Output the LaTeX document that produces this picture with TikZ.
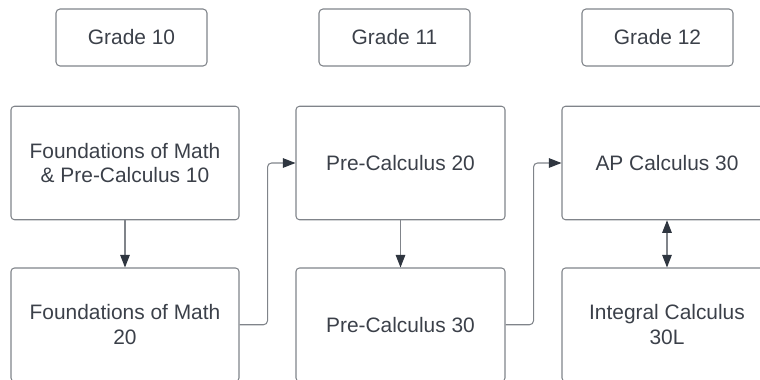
\documentclass[tikz,border=0pt]{standalone}
\usepackage{fontspec}
\setmainfont{Liberation Sans}
\usepackage{xcolor}
\usetikzlibrary{arrows.meta}
\definecolor{inkgray}{HTML}{3B4049}
\definecolor{linegray}{HTML}{80848A}
\definecolor{tipgray}{HTML}{2F3640}
\tikzstyle{arrow}  = [line width=0.6pt, draw=linegray, -{Triangle[length=0.25cm, width=0.19cm, color=tipgray]}]
\tikzstyle{darrow} = [line width=0.6pt, draw=linegray, {Triangle[length=0.25cm, width=0.19cm, color=tipgray]}-{Triangle[length=0.25cm, width=0.19cm, color=tipgray]}]
\tikzstyle{grade}  = [rectangle, draw=linegray, line width=0.6pt, rounded corners=0.08cm, minimum width=3.02cm, minimum height=1.14cm]
\tikzstyle{course} = [rectangle, draw=linegray, line width=0.6pt, rounded corners=0.07cm, minimum height=2.27cm]
\tikzset{every node/.style={align=center, text=inkgray, font=\fontsize{11.9}{14.2}\selectfont, inner sep=0pt}}

\begin{document}
\begin{tikzpicture}
    \useasboundingbox (0,0) rectangle (15.2,7.58);

    % grade headers
    \node (g10) at (2.63, 6.83)  [grade] {Grade 10};
    \node (g11) at (7.89, 6.83)  [grade] {Grade 11};
    \node (g12) at (13.15, 6.83) [grade] {Grade 12};

    % courses
    \node (fpc10) at (2.50, 4.32)  [course, minimum width=4.56cm]
          {Foundations of Math\\\& Pre-Calculus 10};
    \node (fm20)  at (2.50, 1.085) [course, minimum width=4.56cm]
          {Foundations of Math\\20};
    \node (pc20)  at (8.01, 4.32)  [course, minimum width=4.18cm] {Pre-Calculus 20};
    \node (pc30)  at (8.01, 1.085) [course, minimum width=4.18cm] {Pre-Calculus 30};
    \node (ap30)  at (13.34, 4.32)  [course, minimum width=4.20cm] {AP Calculus 30};
    \node (ic30)  at (13.34, 1.085) [course, minimum width=4.20cm]
          {Integral Calculus\\30L};

    \draw [arrow]  (fpc10.south) -- (fm20.north);
    \draw [arrow]  (pc20.south)  -- (pc30.north);
    \draw [darrow] (ap30.south)  -- (ic30.north);
    \draw [arrow, rounded corners=0.08cm] (fm20.east) -- ++(0.56,0) |- (pc20.west);
    \draw [arrow, rounded corners=0.08cm] (pc30.east) -- ++(0.56,0) |- (ap30.west);
\end{tikzpicture}
\end{document}
